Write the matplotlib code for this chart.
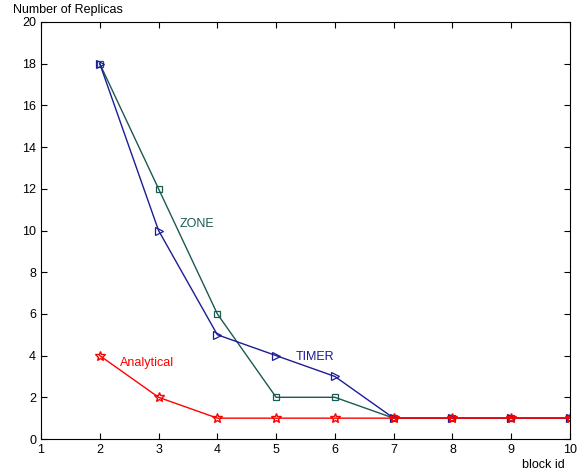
import matplotlib
matplotlib.use("Agg")
import matplotlib.pyplot as plt

# block ids and replica counts per scheme
block_id = [2, 3, 4, 5, 6, 7, 8, 9, 10]
zone = [18, 12, 6, 2, 2, 1, 1, 1, 1]
timer = [18, 10, 5, 4, 3, 1, 1, 1, 1]
analytical = [4, 2, 1, 1, 1, 1, 1, 1, 1]

plt.rcParams['font.family'] = ['Liberation Sans', 'DejaVu Sans']

fig = plt.figure(figsize=(5.87, 4.76), dpi=100)
ax = fig.add_axes([41 / 587, 37 / 476, 529 / 587, 417 / 476])

zone_c = '#1b5a52'
timer_c = '#1c1c96'
ana_c = '#ff0000'

ax.plot(block_id, zone, color=zone_c, lw=1, marker='s', ms=4.5, mfc='none', mew=0.9)
ax.plot(block_id, timer, color=timer_c, lw=1, marker='>', ms=6, mfc='none', mew=0.9)
ax.plot(block_id, analytical, color=ana_c, lw=1, marker='*', ms=7, mfc='none', mew=1)

ax.text(3.35, 10.3, 'ZONE', color=zone_c, fontsize=9, va='center')
ax.text(5.34, 3.95, 'TIMER', color=timer_c, fontsize=9, va='center')
ax.text(2.34, 3.65, 'Analytical', color=ana_c, fontsize=9, va='center')

ax.set_xlim(1, 10)
ax.set_ylim(0, 20)
ax.set_xticks(range(1, 11))
ax.set_yticks(range(0, 21, 2))
ax.tick_params(direction='in', top=True, right=True, labelsize=9, length=4)
for s in ax.spines.values():
    s.set_linewidth(0.8)

fig.text(13 / 587, 1 - 10 / 476, 'Number of Replicas', fontsize=9, va='center', ha='left')
fig.text(565 / 587, 1 - 465 / 476, 'block id', fontsize=9, va='center', ha='right')

fig.savefig('out.png', dpi=100)
